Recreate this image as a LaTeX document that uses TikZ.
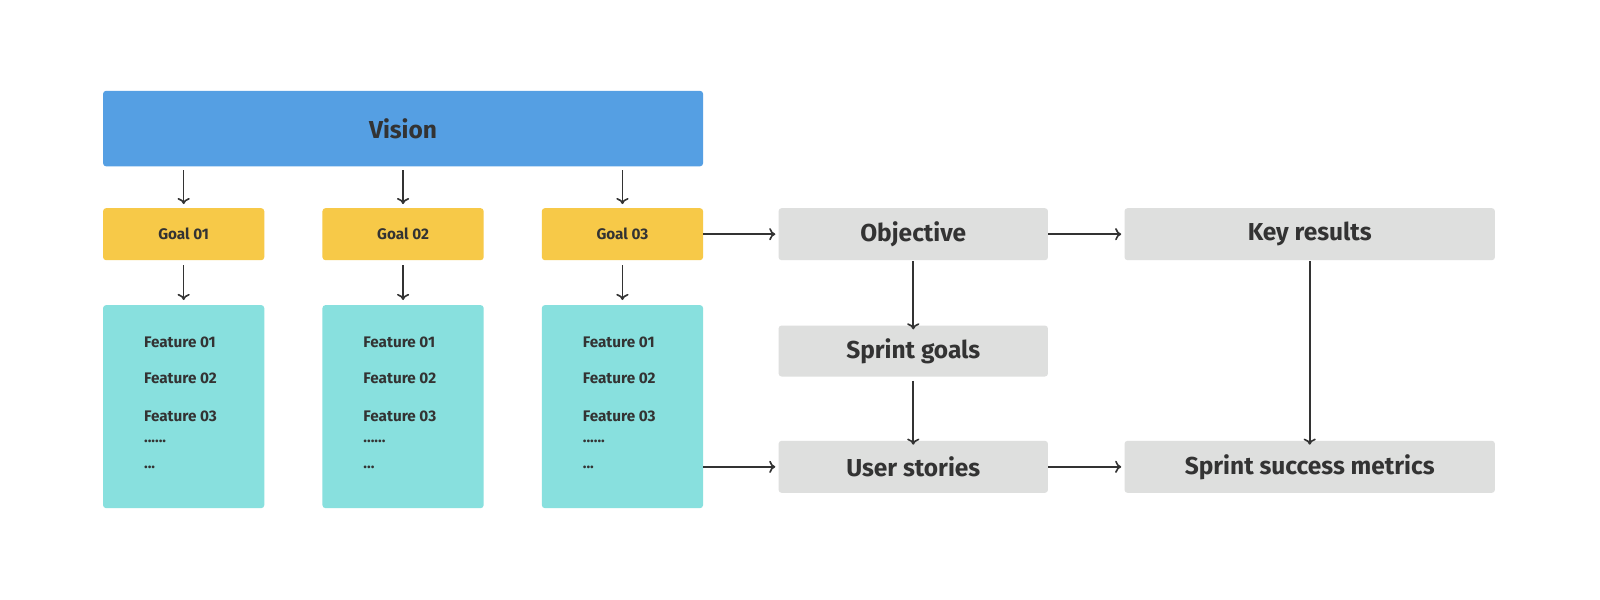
\documentclass[tikz,border=0pt]{standalone}
\usepackage{fontspec}
\setmainfont{Fira Sans}
\usetikzlibrary{arrows.meta}
\definecolor{blu}{HTML}{559FE3}
\definecolor{yel}{HTML}{F7C948}
\definecolor{tea}{HTML}{88E0DE}
\definecolor{gry}{HTML}{DEDFDE}
\definecolor{ink}{HTML}{333333}
\begin{document}
\begin{tikzpicture}[x=1pt,y=-1pt,
  box/.style={rounded corners=3pt,inner sep=0pt,text=ink,font=\fontsize{24}{28}\selectfont\bfseries},
  goal/.style={box,fill=yel,font=\fontsize{15}{18}\selectfont\bfseries},
  feat/.style={box,fill=tea},
  gb/.style={box,fill=gry},
  ft/.style={anchor=west,text=ink,font=\fontsize{15}{18}\selectfont\bfseries,inner sep=0pt},
  ar/.style={draw=ink,line width=1.6pt,-{To[length=6pt,width=12pt]}}]
\useasboundingbox (0,0) rectangle (1568,588);
\fill[white] (0,0) rectangle (1568,588);
\node[box,fill=blu,minimum width=588pt,minimum height=74pt] (vis) at (395,126) {Vision};
\foreach \i/\x in {1/180,2/395,3/610}{
  \node[goal,minimum width=158pt,minimum height=51pt] (g\i) at (\x,229.5) {Goal 0\i};
  \node[feat,minimum width=158pt,minimum height=199pt] (f\i) at (\x,398.5) {};
  \node[ft] (fa\i) at (\x-39,335) {Feature 01};
  \node[ft] (fb\i) at (\x-39,371) {Feature 02};
  \node[ft] (fc\i) at (\x-39,408) {Feature 03};
  \node[ft] (fd\i) at (\x-39,433) {......};
  \node[ft] (fe\i) at (\x-39,458) {...};
  \coordinate (va\i) at (\x,167);
  \coordinate (ga\i) at (\x,260);
  \draw[ar] (va\i) -- (\x,200);
  \draw[ar] (ga\i) -- (\x,294);
}
\node[gb,minimum width=264pt,minimum height=51pt] (obj) at (895,229.5) {Objective};
\node[gb,minimum width=363pt,minimum height=51pt] (kr) at (1283.5,229.5) {Key results};
\node[gb,minimum width=264pt,minimum height=50pt] (sg) at (895,344) {Sprint goals};
\node[gb,minimum width=264pt,minimum height=51pt] (us) at (895,457.5) {User stories};
\node[gb,minimum width=363pt,minimum height=51pt] (sm) at (1283.5,457.5) {Sprint success metrics};
\draw[ar] (g3.east) -- ([xshift=-3pt]obj.west);
\draw[ar] (f3.east|-us.west) -- ([xshift=-3pt]us.west);
\draw[ar] (obj.east) -- ([xshift=-3pt]kr.west);
\draw[ar] (us.east) -- ([xshift=-3pt]sm.west);
\draw[ar] ([yshift=-1pt]obj.south) -- ([yshift=-4pt]sg.north);
\draw[ar] ([yshift=-4pt]sg.south) -- ([yshift=-4pt]us.north);
\draw[ar] ([yshift=-1pt]kr.south) -- ([yshift=-4pt]sm.north);
\end{tikzpicture}
\end{document}
